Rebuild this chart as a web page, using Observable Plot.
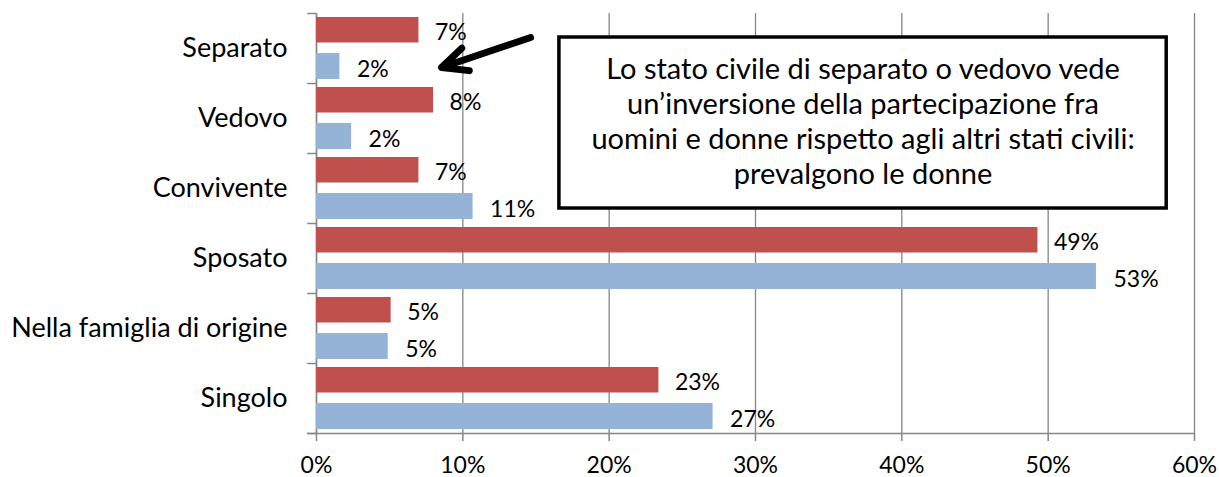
<!DOCTYPE html>
<html>
<head>
<meta charset="utf-8">
<script src="https://cdn.jsdelivr.net/npm/d3@7"></script>
<script src="https://cdn.jsdelivr.net/npm/@observablehq/plot@0.6"></script>
<style>
  html, body { margin: 0; padding: 0; background: #fff; }
  #chart { width: 1219px; height: 477px; overflow: hidden; }
  svg { font-family: Lato, "Open Sans", sans-serif; overflow: visible; }
</style>
</head>
<body>
<div id="chart"></div>
<script>
// Categories (top to bottom) and series values
const categories = ["Separato", "Vedovo", "Convivente", "Sposato", "Nella famiglia di origine", "Singolo"];
const donne  = [0.070, 0.080, 0.070, 0.493, 0.051, 0.234]; // red series
const uomini = [0.016, 0.024, 0.107, 0.533, 0.049, 0.271]; // blue series
const xTicks = [0, 0.1, 0.2, 0.3, 0.4, 0.5, 0.6];
const note = "Lo stato civile di separato o vedovo vede\nun’inversione della partecipazione fra\nuomini e donne rispetto agli altri stati civili:\nprevalgono le donne";

const rows = categories.map((c, i) => ({cat: c, i, donne: donne[i], uomini: uomini[i]}));
const fmt = d3.format(".0%");
const grey = "#868686";
const band = 70; // px per category, used for within-band offsets

const chart = Plot.plot({
  width: 1219,
  height: 477,
  marginLeft: 316,
  marginRight: 25,
  marginTop: 13,
  marginBottom: 44,
  x: {domain: [0, 0.6]},
  y: {domain: [0, categories.length], range: [13, 433]},
  marks: [
    Plot.gridX(xTicks, {stroke: grey, strokeOpacity: 1, strokeWidth: 1.3}),
    // left axis line and band-boundary ticks
    Plot.ruleX([0], {y1: 0, y2: categories.length, stroke: grey, strokeWidth: 1.5}),
    Plot.ruleY(d3.range(categories.length + 1), {x1: -0.006, x2: 0, stroke: grey, strokeWidth: 1.5}),
    // bottom axis line
    Plot.ruleY([categories.length], {x1: -0.006, x2: 0.6, stroke: grey, strokeWidth: 1.5}),
    Plot.axisX({ticks: xTicks, tickFormat: fmt, tickSize: 8, tickPadding: 15, fontSize: 23, stroke: grey, strokeWidth: 1.5}),
    Plot.axisY({ticks: categories.map((d, i) => i + 0.5), tickFormat: v => categories[Math.floor(v)], tickSize: 0, tickPadding: 29, fontSize: 27}),
    // bars
    Plot.rectX(rows, {x1: 0, x2: "donne", y1: d => d.i + 4 / band, y2: d => d.i + 29.5 / band, fill: "#C0504D"}),
    Plot.rectX(rows, {x1: 0, x2: "uomini", y1: d => d.i + 40 / band, y2: d => d.i + 66 / band, fill: "#95B3D7"}),
    // value labels
    Plot.text(rows, {x: "donne", y: d => d.i + 19 / band, text: d => fmt(d.donne), dx: 16, textAnchor: "start", fontSize: 23, fill: "black"}),
    Plot.text(rows, {x: "uomini", y: d => d.i + 56 / band, text: d => fmt(d.uomini), dx: 17, textAnchor: "start", fontSize: 23, fill: "black"}),
    // annotation box
    Plot.rect([note], {x1: 0.166, x2: 0.581, y1: 24 / band, y2: 195 / band, fill: "white", stroke: "black", strokeWidth: 3.5}),
    Plot.text([note], {x: 0.3735, y: 107 / band, text: d => d, fontSize: 29, lineHeight: 1.2, fill: "black"}),
    // arrow
    Plot.arrow([note], {x1: 0.1463, y1: 24 / band, x2: 0.0854, y2: 54 / band, stroke: "black", strokeWidth: 7, headAngle: 50, headLength: 6})
  ]
});
document.getElementById("chart").appendChild(chart);
</script>
</body>
</html>
